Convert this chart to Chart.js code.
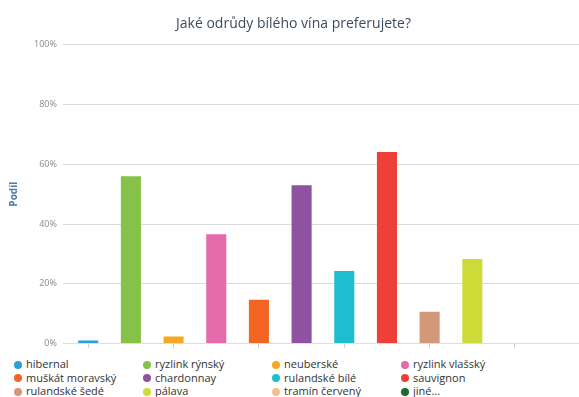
<!DOCTYPE html>
<html>
<head>
<meta charset="utf-8">
<script src="https://cdn.jsdelivr.net/npm/chart.js@4/dist/chart.umd.min.js"></script>
<style>
  html, body { margin: 0; padding: 0; background: #fff; }
  #wrap { position: relative; width: 579px; height: 355px; }
  #legend {
    display: grid;
    grid-template-columns: repeat(4, 129px);
    margin: 2px 0 0 14px;
    font-family: "Open Sans", sans-serif;
    font-size: 11px;
    line-height: 13.7px;
    color: #333;
  }
  #legend span.dot {
    display: inline-block; width: 8px; height: 8px; border-radius: 50%;
    margin-right: 4px; vertical-align: -0.5px;
  }
</style>
</head>
<body>
<div id="wrap"><canvas id="wineChart"></canvas></div>
<div id="legend"></div>
<script>
const varieties = ['hibernal', 'ryzlink rýnský', 'neuberské', 'ryzlink vlašský',
  'muškát moravský', 'chardonnay', 'rulandské bílé', 'sauvignon',
  'rulandské šedé', 'pálava', 'tramín červený', 'jiné...'];
const shares = [1, 56, 2.4, 36.6, 14.7, 53, 24.3, 64.1, 10.7, 28.3, 0, 0];
const colors = ['#2a9fd8', '#86c148', '#f7a823', '#e46aab', '#f26522', '#8e52a0',
  '#1fbdd0', '#ee4036', '#d3977a', '#cddc39', '#f6c08e', '#1f6b2f'];
const yTicks = [0, 20, 40, 60, 80, 100];

const ctx = document.getElementById('wineChart');

new Chart(ctx, {
  type: 'bar',
  data: {
    labels: varieties,
    datasets: [{
      label: 'Podíl',
      data: shares,
      backgroundColor: colors,
      barPercentage: 0.94,
      categoryPercentage: 0.5
    }]
  },
  options: {
    responsive: true,
    maintainAspectRatio: false,
    animation: false,
    layout: { padding: { left: 8, right: 0, bottom: 0 } },
    plugins: {
      legend: { display: false },
      tooltip: { enabled: false },
      title: {
        display: true,
        text: 'Jaké odrůdy bílého vína preferujete?',
        color: '#3e4c5a',
        font: { family: 'Open Sans', size: 14, weight: 'normal' },
        padding: { top: 16, bottom: 12 }
      }
    },
    scales: {
      x: {
        grid: { drawOnChartArea: false, offset: false, tickLength: 4, color: '#cccccc' },
        border: { color: '#dddddd' },
        ticks: {
          autoSkip: false,
          maxRotation: 0,
          padding: 0,
          font: { size: 2 },
          callback: (v, i) => (i % 2 === 0 ? '' : null)
        }
      },
      y: {
        min: 0,
        max: 100,
        afterBuildTicks: axis => { axis.ticks = yTicks.map(v => ({ value: v })); },
        grid: { color: '#dcdcdc', tickLength: 4 },
        border: { display: false },
        ticks: {
          color: '#8a8a8a',
          padding: 6,
          font: { family: 'Open Sans', size: 9 },
          callback: v => v + '%'
        },
        title: {
          display: true,
          text: 'Podíl',
          color: '#4b7aa6',
          font: { family: 'Open Sans', size: 10, weight: 'bold' },
          padding: { top: 0, bottom: 8 }
        }
      }
    }
  }
});

const legend = document.getElementById('legend');
varieties.forEach((name, i) => {
  const item = document.createElement('div');
  item.innerHTML = '<span class="dot" style="background:' + colors[i] + '"></span>' + name;
  legend.appendChild(item);
});
</script>
</body>
</html>
